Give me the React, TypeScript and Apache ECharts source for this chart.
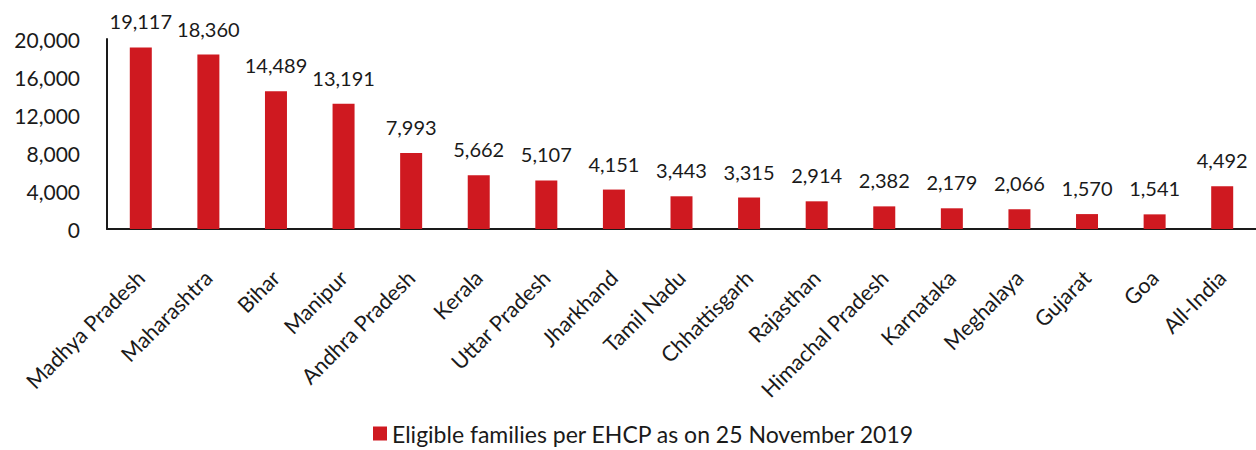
import React, { useEffect, useRef } from "react";
import * as echarts from "echarts";

const categories = [
  "Madhya Pradesh", "Maharashtra", "Bihar", "Manipur", "Andhra Pradesh", "Kerala",
  "Uttar Pradesh", "Jharkhand", "Tamil Nadu", "Chhattisgarh", "Rajasthan",
  "Himachal Pradesh", "Karnataka", "Meghalaya", "Gujarat", "Goa", "All-India",
];
const values = [19117, 18360, 14489, 13191, 7993, 5662, 5107, 4151, 3443, 3315, 2914, 2382, 2179, 2066, 1570, 1541, 4492];
const seriesName = "Eligible families per EHCP as on 25 November 2019";
const yTicks = [0, 4000, 8000, 12000, 16000, 20000];

const FONT = "Lato";
const TEXT = "#1a1a1a";
const RED = "#CF1920";

const fmt = (v: number) => v.toLocaleString("en-US");

export default function App() {
  const ref = useRef<HTMLDivElement>(null);
  useEffect(() => {
    if (!ref.current) return;
    const chart = echarts.init(ref.current, undefined, { renderer: "svg" });
    chart.setOption({
      animation: false,
      textStyle: { fontFamily: FONT },
      grid: { left: 107, right: 0, top: 39, bottom: 221, containLabel: false },
      legend: {
        bottom: 0,
        left: 368,
        itemWidth: 14,
        itemHeight: 14,
        itemGap: 7,
        icon: "rect",
        textStyle: { fontFamily: FONT, fontSize: 23, color: TEXT },
        data: [seriesName],
      },
      xAxis: {
        type: "category",
        data: categories,
        axisLine: { lineStyle: { color: "#1a1a1a", width: 2 } },
        axisTick: { show: false },
        axisLabel: {
          rotate: 45,
          interval: 0,
          margin: 45,
          fontFamily: FONT,
          fontSize: 21.5,
          color: TEXT,
        },
      },
      yAxis: {
        type: "value",
        min: yTicks[0],
        max: yTicks[yTicks.length - 1],
        interval: 4000,
        axisLine: { show: true, lineStyle: { color: "#1a1a1a", width: 2 } },
        axisTick: { show: false },
        splitLine: { show: false },
        axisLabel: {
          margin: 27,
          fontFamily: FONT,
          fontSize: 21,
          color: TEXT,
          formatter: (v: number) => fmt(v),
        },
      },
      series: [
        {
          name: seriesName,
          type: "bar",
          data: values,
          barWidth: 22,
          itemStyle: { color: RED },
          label: {
            show: true,
            position: "top",
            distance: 16,
            fontFamily: FONT,
            fontSize: 20,
            color: TEXT,
            formatter: (p: any) => fmt(p.value),
          },
        },
      ],
    });
    return () => chart.dispose();
  }, []);
  return (
    <div
      ref={ref}
      style={{ position: "fixed", left: 0, top: 0, width: 1256, height: 450, background: "#fff" }}
    />
  );
}
